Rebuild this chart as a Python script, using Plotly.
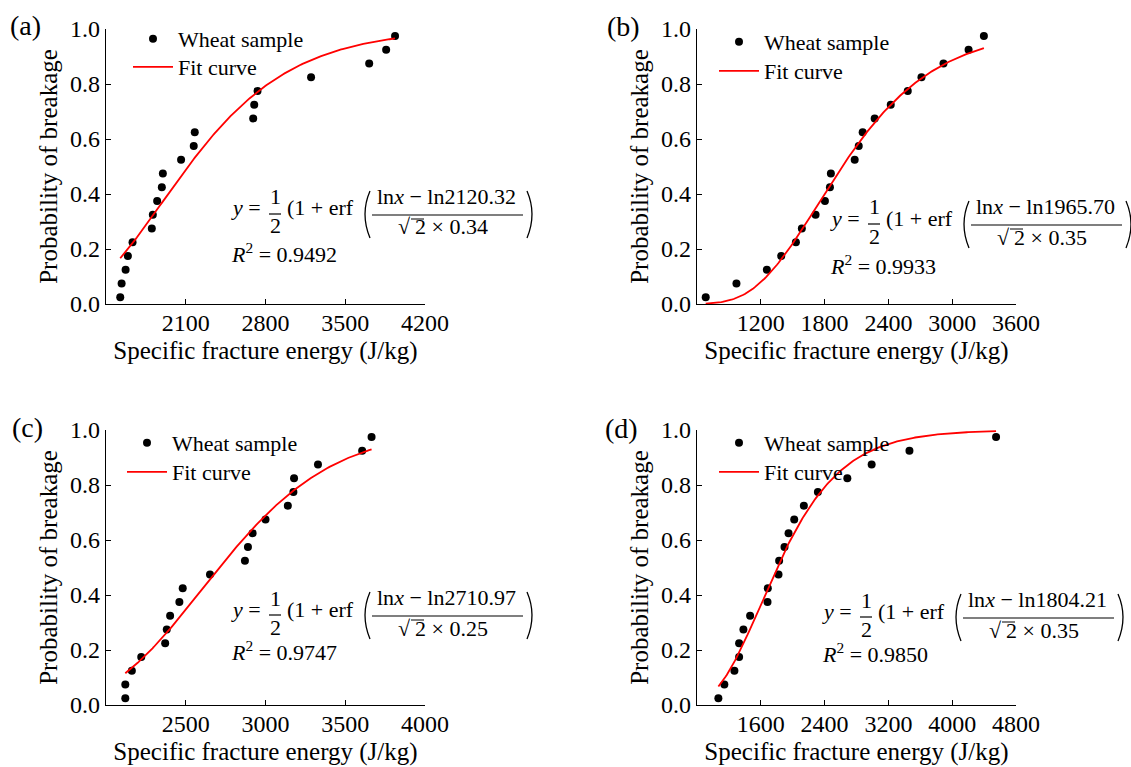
import math
import plotly.graph_objects as go

W, H = 1131, 767

# ---------------- data ----------------
y_prob = [0.025, 0.075, 0.125, 0.175, 0.225, 0.275, 0.325, 0.375, 0.425, 0.475,
          0.525, 0.575, 0.625, 0.675, 0.725, 0.775, 0.825, 0.875, 0.925, 0.975]

a_x = [1525, 1537, 1572, 1592, 1633, 1802, 1811, 1849, 1890, 1899,
       2059, 2170, 2179, 2692, 2701, 2730, 3200, 3710, 3859, 3937]
b_x = [682, 971, 1257, 1392, 1530, 1586, 1715, 1803, 1850, 1859,
       2083, 2121, 2158, 2271, 2422, 2582, 2711, 2918, 3154, 3298]
c_x = [2121, 2121, 2162, 2221, 2371, 2381, 2402, 2460, 2481, 2652,
       2871, 2890, 2919, 3000, 3140, 3175, 3179, 3329, 3606, 3665]
d_x = [1068, 1143, 1269, 1328, 1328, 1382, 1466, 1684, 1688, 1822,
       1830, 1897, 1948, 2019, 2140, 2316, 2685, 2990, 3464, 4550]

# fit-curve parameters (median, log-sd) of the drawn curves
curve_mu = [2120.32, 1965.70, 2710.97, 1804.21]
curve_sigma = [0.34, 0.35, 0.205, 0.35]

# texts of the equations
eq_mu_text = ["2120.32", "1965.70", "2710.97", "1804.21"]
eq_sigma_text = ["0.34", "0.35", "0.25", "0.35"]
r2_text = ["0.9492", "0.9933", "0.9747", "0.9850"]
panel_labels = ["(a)", "(b)", "(c)", "(d)"]

x_ranges = [[1400, 4200], [600, 3600], [2000, 4000], [800, 4800]]
x_ticks = [[2100, 2800, 3500, 4200], [1200, 1800, 2400, 3000, 3600],
           [2500, 3000, 3500, 4000], [1600, 2400, 3200, 4000, 4800]]
y_ticks = [0.0, 0.2, 0.4, 0.6, 0.8, 1.0]

xs_all = [a_x, b_x, c_x, d_x]

# ---------------- layout geometry (pixels) ----------------
x_dom_px = [[106, 425], [697, 1016], [106, 425], [697, 1016]]
y_dom_px = [[29, 304], [29, 304], [430, 705], [430, 705]]
eq_anchor = [(229, 208), (828, 218), (229, 609), (820, 611)]
r2_y = [253, 265, 651, 653]
legend_marker = [(150, 39), (736, 42), (144, 443), (736, 443)]
legend_line_y = [67, 71, 472, 472]
label_pos = [(8, 25), (605, 27), (10, 427), (603, 428)]

SERIF = "Liberation Serif"


def px(x):
    return x / W


def py(y):
    return 1 - y / H


fig = go.Figure()
annotations = []
shapes = []
layout = {}

for k in range(4):
    sfx = "" if k == 0 else str(k + 1)
    xa, ya = "x" + sfx, "y" + sfx
    lg1 = "legend" if k == 0 else "legend%d" % (2 * k + 1)
    lg2 = "legend%d" % (2 * k + 2)
    xs = xs_all[k]
    fig.add_trace(go.Scatter(x=xs, y=y_prob, mode="markers",
                             marker=dict(color="black", size=8),
                             name="Wheat sample", xaxis=xa, yaxis=ya, legend=lg1,
                             showlegend=True))
    n = 200
    lo, hi = min(xs), max(xs)
    cx = [lo + (hi - lo) * i / (n - 1) for i in range(n)]
    cy = [0.5 * (1 + math.erf((math.log(v) - math.log(curve_mu[k])) /
                              (math.sqrt(2) * curve_sigma[k]))) for v in cx]
    fig.add_trace(go.Scatter(x=cx, y=cy, mode="lines",
                             line=dict(color="#ff0000", width=1.8),
                             name="Fit curve", xaxis=xa, yaxis=ya, legend=lg2,
                             showlegend=True))

    axis_common = dict(showline=True, linecolor="black", linewidth=1.3,
                       ticks="inside", ticklen=5, tickwidth=1.3, tickcolor="black",
                       showgrid=False, zeroline=False, automargin=False,
                       tickfont=dict(family=SERIF, size=24, color="black"))
    layout["xaxis" + sfx] = dict(
        axis_common, domain=[px(x_dom_px[k][0]), px(x_dom_px[k][1])],
        range=x_ranges[k], tickvals=x_ticks[k], anchor=ya, ticklabelstandoff=-3,
        title=dict(text="Specific fracture energy (J/kg)", standoff=6,
                   font=dict(family=SERIF, size=25, color="black")))
    layout["yaxis" + sfx] = dict(
        axis_common, domain=[py(y_dom_px[k][1]), py(y_dom_px[k][0])],
        range=[0, 1], tickvals=y_ticks, tickformat=".1f", anchor=xa,
        title=dict(text="Probability of breakage", standoff=5,
                   font=dict(family=SERIF, size=25, color="black")))

    mx, my = legend_marker[k]
    for name, yy in ((lg1, my), (lg2, legend_line_y[k])):
        layout[name] = dict(x=px(mx - 22), y=py(yy), xanchor="left", yanchor="middle",
                            bgcolor="rgba(0,0,0,0)", borderwidth=0, itemwidth=40,
                            font=dict(family=SERIF, size=22, color="black"))

    # panel label
    lx, ly = label_pos[k]
    annotations.append(dict(text=panel_labels[k], x=px(lx), y=py(ly), xref="paper",
                            yref="paper", xanchor="left", yanchor="middle",
                            showarrow=False,
                            font=dict(family=SERIF, size=28, color="black")))

    # equation
    X0, Y0 = eq_anchor[k]
    ef = dict(family=SERIF, size=22, color="black")

    def ann(text, x, y, xanchor="left"):
        annotations.append(dict(text=text, x=px(x), y=py(y), xref="paper",
                                yref="paper", xanchor=xanchor, yanchor="middle",
                                showarrow=False, font=ef))

    def seg(x0, y0, x1, y1, w=1.2):
        shapes.append(dict(type="line", xref="paper", yref="paper",
                           x0=px(x0), y0=py(y0), x1=px(x1), y1=py(y1),
                           line=dict(color="black", width=w)))

    B = Y0 + 6  # fraction bar level
    ann("<i>y</i> =", X0, Y0)
    ann("1", X0 + 46, Y0 - 11, "center")
    ann("2", X0 + 46, Y0 + 18, "center")
    seg(X0 + 40, B, X0 + 52, B)
    ann("(1 + erf", X0 + 56, Y0)
    ann("ln<i>x</i> \u2212 ln" + eq_mu_text[k], X0 + 217, Y0 - 12, "center")
    seg(X0 + 143, B + 1, X0 + 294, B + 1)
    ann("\u221a", X0 + 184, Y0 + 19, "right")
    ann("2 \u00d7 " + eq_sigma_text[k], X0 + 184, Y0 + 19, "left")
    seg(X0 + 182, B + 5, X0 + 195, B + 5, 1.0)
    shapes.append(dict(type="path", xref="paper", yref="paper",
                       path="M %f,%f Q %f,%f %f,%f" % (px(X0 + 141), py(B - 23),
                                                       px(X0 + 131), py(B),
                                                       px(X0 + 141), py(B + 24)),
                       line=dict(color="black", width=1.3)))
    shapes.append(dict(type="path", xref="paper", yref="paper",
                       path="M %f,%f Q %f,%f %f,%f" % (px(X0 + 298), py(B - 23),
                                                       px(X0 + 308), py(B),
                                                       px(X0 + 298), py(B + 24)),
                       line=dict(color="black", width=1.3)))
    ann("<i>R</i><sup>2</sup> = " + r2_text[k], X0, r2_y[k])

fig.update_layout(**layout)
fig.update_layout(width=W, height=H, margin=dict(l=0, r=0, t=0, b=0),
                  showlegend=True,
                  paper_bgcolor="white", plot_bgcolor="white",
                  annotations=annotations, shapes=shapes,
                  font=dict(family=SERIF, color="black"))
fig.write_html("out.html")
